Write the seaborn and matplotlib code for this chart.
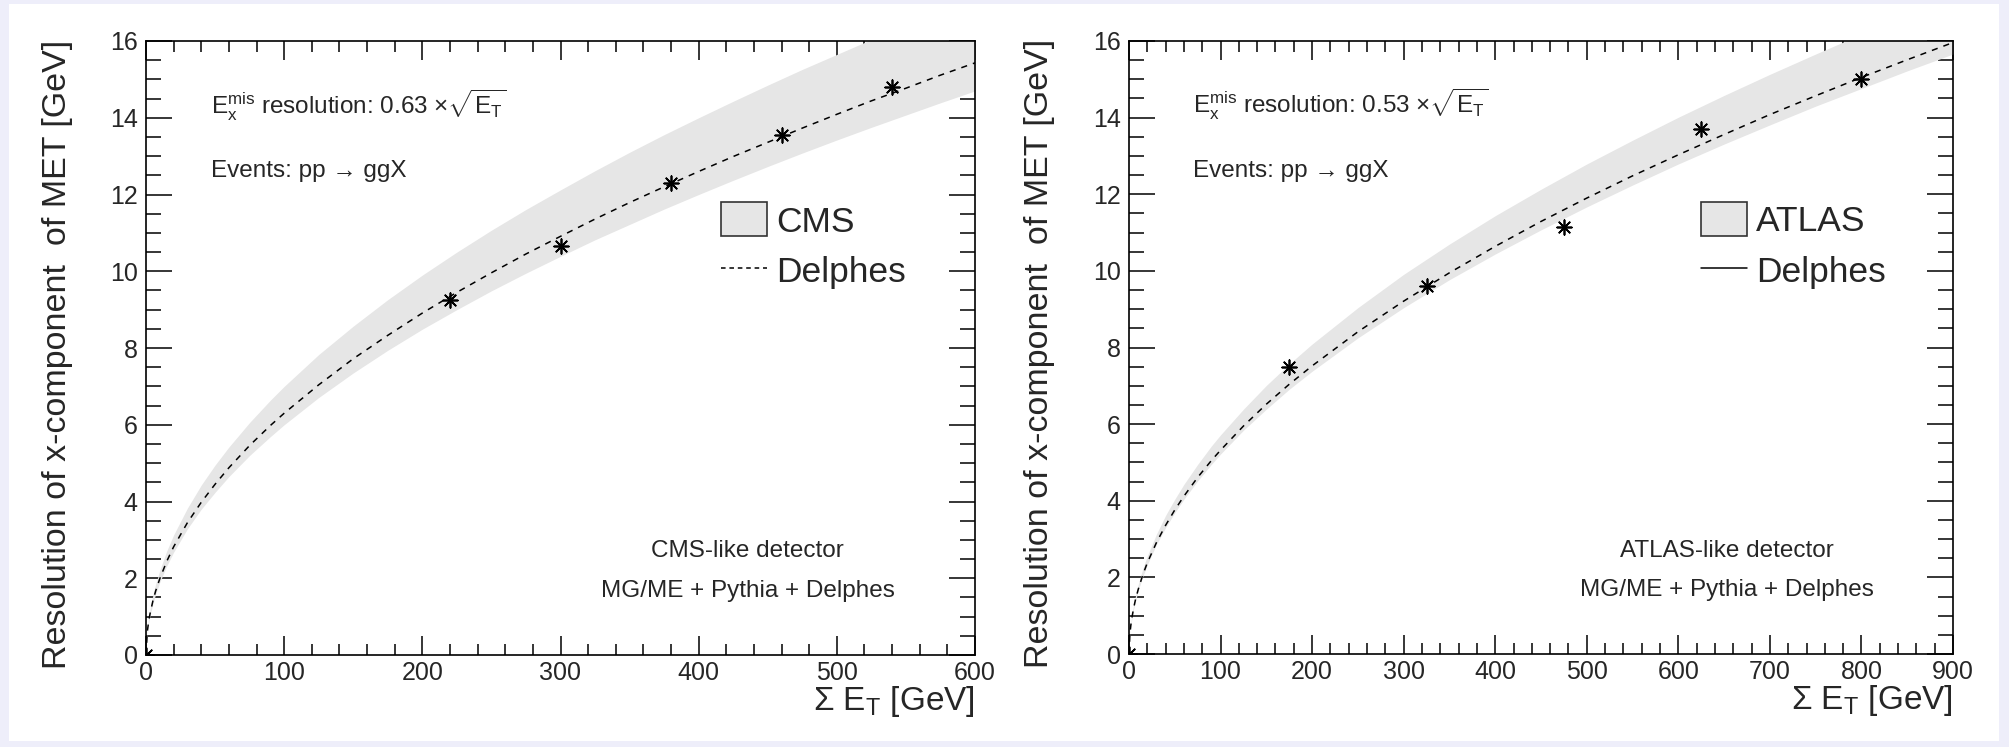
import matplotlib
matplotlib.use("Agg")
import matplotlib.pyplot as plt
import seaborn as sns
from matplotlib.ticker import MultipleLocator
from matplotlib.patches import Patch, Rectangle
from matplotlib.lines import Line2D

# CMS panel: band, Delphes curve and Delphes points
cms_x = [0, 1, 2, 3, 5, 7, 10, 15, 20, 30, 40, 50, 60, 75, 90, 100, 125, 150, 175, 200,
         225, 250, 275, 300, 325, 350, 375, 400, 425, 450, 475, 500, 525, 550, 575, 600]
cms_band_hi = [0, 0.70, 0.99, 1.21, 1.57, 1.85, 2.21, 2.71, 3.13, 3.83, 4.43, 4.95, 5.42,
               6.06, 6.64, 7.00, 7.83, 8.57, 9.26, 9.90, 10.50, 11.07, 11.61, 12.12, 12.62,
               13.10, 13.56, 14.00, 14.43, 14.85, 15.26, 15.65, 16.04, 16.42, 16.79, 17.15]
cms_band_lo = [0, 0.60, 0.85, 1.04, 1.34, 1.59, 1.90, 2.32, 2.68, 3.29, 3.80, 4.24, 4.65,
               5.20, 5.69, 6.00, 6.71, 7.35, 7.94, 8.49, 9.00, 9.49, 9.95, 10.39, 10.82,
               11.22, 11.62, 12.00, 12.37, 12.73, 13.08, 13.42, 13.75, 14.07, 14.39, 14.70]
cms_line = [0, 0.63, 0.89, 1.09, 1.41, 1.67, 1.99, 2.44, 2.82, 3.45, 3.98, 4.45, 4.88,
            5.46, 5.98, 6.30, 7.04, 7.72, 8.33, 8.91, 9.45, 9.96, 10.45, 10.91, 11.36,
            11.79, 12.20, 12.60, 12.99, 13.36, 13.73, 14.09, 14.44, 14.77, 15.11, 15.43]
cms_pts_x = [0, 220, 300, 380, 460, 540]
cms_pts_y = [0, 9.25, 10.65, 12.3, 13.55, 14.8]

# ATLAS panel
atlas_x = [0, 1, 2, 3, 5, 7, 10, 15, 20, 30, 40, 50, 60, 75, 90, 100, 125, 150, 175, 200,
           250, 300, 350, 400, 450, 500, 550, 600, 650, 700, 750, 800, 850, 900]
atlas_band_hi = [0, 0.57, 0.81, 0.99, 1.28, 1.51, 1.81, 2.22, 2.56, 3.13, 3.62, 4.04, 4.43,
                 4.95, 5.43, 5.72, 6.39, 7.01, 7.57, 8.09, 9.04, 9.91, 10.70, 11.44, 12.13,
                 12.79, 13.41, 14.01, 14.58, 15.13, 15.66, 16.18, 16.68, 17.16]
atlas_band_lo = [0, 0.52, 0.74, 0.90, 1.17, 1.38, 1.65, 2.02, 2.33, 2.86, 3.30, 3.69, 4.04,
                 4.52, 4.95, 5.22, 5.84, 6.39, 6.91, 7.38, 8.25, 9.04, 9.77, 10.44, 11.07,
                 11.67, 12.24, 12.79, 13.31, 13.81, 14.30, 14.76, 15.22, 15.66]
atlas_line = [0, 0.53, 0.75, 0.92, 1.19, 1.41, 1.68, 2.06, 2.38, 2.91, 3.36, 3.76, 4.12,
              4.61, 5.05, 5.32, 5.95, 6.52, 7.04, 7.52, 8.41, 9.21, 9.95, 10.64, 11.29,
              11.90, 12.48, 13.03, 13.56, 14.08, 14.57, 15.05, 15.51, 15.96]
atlas_pts_x = [0, 175, 325, 475, 625, 800]
atlas_pts_y = [0, 7.5, 9.6, 11.15, 13.7, 15.0]

sns.set_style("ticks")
plt.rcParams["font.family"] = ["Liberation Sans", "DejaVu Sans"]
plt.rcParams["mathtext.fontset"] = "custom"
plt.rcParams["mathtext.rm"] = "Liberation Sans"
plt.rcParams["mathtext.it"] = "Liberation Sans"
plt.rcParams["mathtext.bf"] = "Liberation Sans"

band_col = "#e6e6e6"
bg_col = "#eeeefa"

fig = plt.figure(figsize=(20.09, 7.47), dpi=100, facecolor=bg_col)
fig.patches.append(Rectangle((9 / 2009, 6 / 747), 1990 / 2009, 737 / 747,
                             transform=fig.transFigure, facecolor="white",
                             edgecolor="none", zorder=-10))

ax1 = fig.add_axes([146 / 2009, 92 / 747, 829 / 2009, 614 / 747])
ax2 = fig.add_axes([1129 / 2009, 93 / 747, 824 / 2009, 613 / 747])

panels = [
    (ax1, cms_x, cms_band_lo, cms_band_hi, cms_line, cms_pts_x, cms_pts_y, 600,
     "0.63", "CMS", "--", "CMS-like detector", -0.107),
    (ax2, atlas_x, atlas_band_lo, atlas_band_hi, atlas_line, atlas_pts_x, atlas_pts_y, 900,
     "0.53", "ATLAS", "-", "ATLAS-like detector", -0.109),
]

for ax, bx, lo, hi, line, px, py, xmax, coef, name, leg_ls, det, ylx in panels:
    ax.set_facecolor("white")
    ax.fill_between(bx, lo, hi, color=band_col, linewidth=0, zorder=1)
    sns.lineplot(x=bx, y=line, ax=ax, color="black", linewidth=1.1,
                 linestyle=(0, (4, 4)), zorder=2)
    sns.scatterplot(x=px, y=py, ax=ax, marker=(8, 2, 0), s=110,
                    color="black", edgecolor="black", linewidth=1.25, zorder=3)

    ax.set_xlim(0, xmax)
    ax.set_ylim(0, 16)
    ax.xaxis.set_major_locator(MultipleLocator(100))
    ax.xaxis.set_minor_locator(MultipleLocator(20))
    ax.yaxis.set_major_locator(MultipleLocator(2))
    ax.yaxis.set_minor_locator(MultipleLocator(0.5))
    ax.tick_params(which="both", direction="in", top=True, right=True,
                   width=1.1, color="black", labelsize=18)
    ax.tick_params(axis="x", which="major", length=13.5, pad=4)
    ax.tick_params(axis="x", which="minor", length=8)
    ax.tick_params(axis="y", which="major", length=19, pad=6)
    ax.tick_params(axis="y", which="minor", length=10.5)
    for sp in ax.spines.values():
        sp.set_visible(True)
        sp.set_linewidth(1.2)
        sp.set_color("black")

    ax.set_ylabel("Resolution of x-component  of MET [GeV]", fontsize=24.5, va="center")
    ax.yaxis.set_label_coords(ylx, 0.49)
    ax.set_xlabel(r"$\Sigma$ E$_{\rm T}$ [GeV]", fontsize=24, ha="right", va="top")
    ax.xaxis.set_label_coords(1.0, -0.048)

    ax.text(0.078, 0.881,
            r"E$_{\rm x}^{\rm mis}$ resolution: " + coef + r" ×$\sqrt{\rm E_T}$",
            transform=ax.transAxes, fontsize=17.5, va="baseline")
    ax.text(0.078, 0.778, "Events: pp → ggX",
            transform=ax.transAxes, fontsize=17.5, va="baseline")
    ax.text(0.726, 0.159, det, transform=ax.transAxes, fontsize=17.5,
            ha="center", va="baseline")
    ax.text(0.726, 0.094, "MG/ME + Pythia + Delphes", transform=ax.transAxes,
            fontsize=17.5, ha="center", va="baseline")

    handles = [Patch(facecolor=band_col, edgecolor="#333333", linewidth=1.2),
               Line2D([], [], color="black", linewidth=1.1,
                      linestyle=(0, (3, 2.5)) if leg_ls == "--" else "-")]
    ax.legend(handles, [name, "Delphes"], loc="upper left",
              bbox_to_anchor=(0.694, 0.737), frameon=False, fontsize=25.5,
              handlelength=1.3, handleheight=1.1, handletextpad=0.25,
              borderpad=0, borderaxespad=0, labelspacing=0.42)

fig.savefig("out.png", dpi=100, facecolor=bg_col)
